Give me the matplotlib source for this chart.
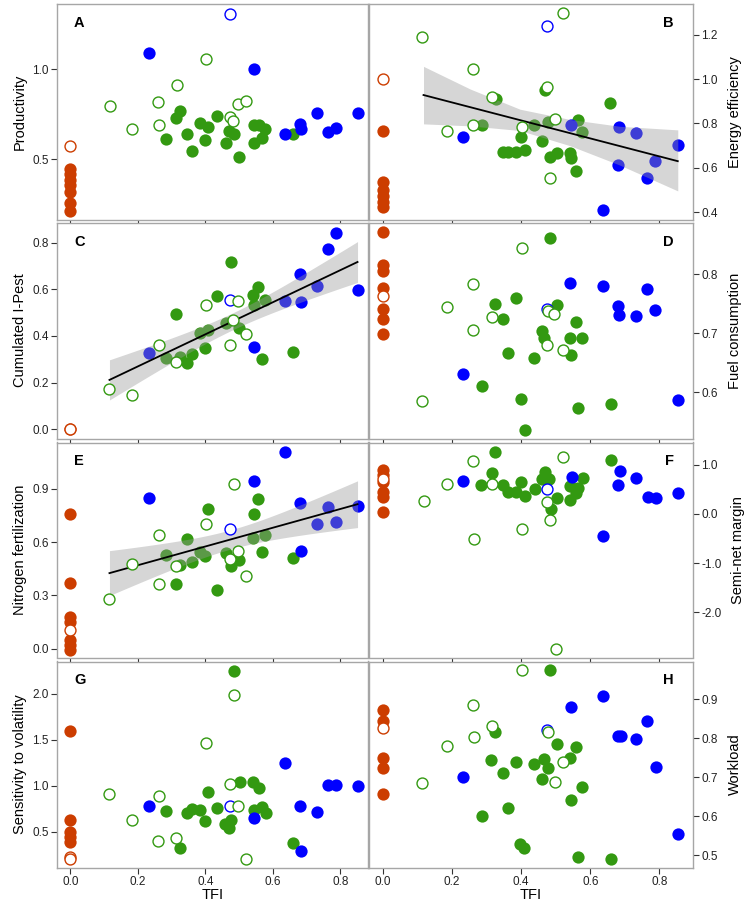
import numpy as np
import matplotlib
matplotlib.use("Agg")
import matplotlib.pyplot as plt
from matplotlib.ticker import FormatStrFormatter

plt.rcParams['font.family'] = ['Liberation Sans', 'DejaVu Sans']
plt.rcParams['axes.unicode_minus'] = False

RED = '#cc3d00'
GREEN = '#339911'
BLUE = '#0000ff'

# ---- A: Productivity
prod_rf_y = [0.444, 0.419, 0.385, 0.358, 0.321, 0.26, 0.216]
prod_ro_y = [0.574]
prod_bf_x = [0.232, 0.543, 0.636, 0.681, 0.684, 0.732, 0.764, 0.787, 0.851]
prod_bf_y = [1.09, 1.0, 0.642, 0.695, 0.666, 0.755, 0.649, 0.675, 0.755]
prod_bo = (0.4725, 1.306)
prod_go_x = [0.118, 0.184, 0.26, 0.262, 0.316, 0.402, 0.4725, 0.483, 0.498, 0.52]
prod_go_y = [0.793, 0.668, 0.819, 0.688, 0.91, 1.054, 0.736, 0.714, 0.808, 0.825]
prod_gf_x = [0.284, 0.313, 0.326, 0.347, 0.361, 0.385, 0.398, 0.409, 0.435, 0.461,
             0.469, 0.486, 0.501, 0.543, 0.545, 0.56, 0.567, 0.577, 0.659]
prod_gf_y = [0.611, 0.729, 0.767, 0.638, 0.546, 0.703, 0.609, 0.679, 0.738, 0.592,
             0.657, 0.642, 0.511, 0.592, 0.69, 0.69, 0.62, 0.666, 0.638]

# ---- B: Energy efficiency
ener_rf_y = [0.764, 0.534, 0.498, 0.471, 0.448, 0.423]
ener_ro_y = [1.0]
ener_bf_x = [0.233, 0.544, 0.684, 0.681, 0.733, 0.788, 0.763, 0.855, 0.638]
ener_bf_y = [0.740, 0.794, 0.785, 0.611, 0.755, 0.629, 0.556, 0.701, 0.409]
ener_bo = (0.474, 1.241)
ener_go_x = [0.115, 0.262, 0.185, 0.262, 0.315, 0.402, 0.474, 0.498, 0.484, 0.52]
ener_go_y = [1.191, 1.045, 0.768, 0.792, 0.919, 0.782, 0.964, 0.821, 0.556, 1.298]
ener_gf_x = [0.287, 0.328, 0.347, 0.361, 0.385, 0.399, 0.41, 0.438, 0.46, 0.468,
             0.477, 0.484, 0.503, 0.542, 0.545, 0.559, 0.566, 0.577, 0.657]
ener_gf_y = [0.795, 0.91, 0.671, 0.671, 0.671, 0.737, 0.681, 0.791, 0.72, 0.952,
             0.806, 0.651, 0.666, 0.669, 0.644, 0.585, 0.817, 0.761, 0.892]
# trend line and confidence band
ener_fit_x = [0.118, 0.253, 0.397, 0.541, 0.686, 0.853]
ener_fit_y = [0.928, 0.873, 0.815, 0.757, 0.698, 0.630]
ener_fit_lo = [0.798, 0.789, 0.768, 0.700, 0.612, 0.496]
ener_fit_hi = [1.057, 0.955, 0.864, 0.818, 0.787, 0.771]

# ---- C: Cumulated I-Pest
ipest_rf_y = [0.0]
ipest_ro_y = [0.0]
ipest_bf_x = [0.232, 0.543, 0.636, 0.681, 0.684, 0.732, 0.764, 0.787, 0.851]
ipest_bf_y = [0.326, 0.354, 0.551, 0.664, 0.546, 0.616, 0.771, 0.843, 0.596]
ipest_bo = (0.4725, 0.554)
ipest_go_x = [0.116, 0.184, 0.262, 0.314, 0.402, 0.4725, 0.483, 0.498, 0.52]
ipest_go_y = [0.171, 0.146, 0.361, 0.29, 0.534, 0.36, 0.469, 0.551, 0.407]
ipest_gf_x = [0.283, 0.313, 0.326, 0.347, 0.361, 0.385, 0.398, 0.409, 0.435, 0.461,
              0.476, 0.501, 0.541, 0.543, 0.557, 0.567, 0.577, 0.659]
ipest_gf_y = [0.307, 0.494, 0.311, 0.286, 0.321, 0.414, 0.35, 0.426, 0.573, 0.457,
              0.717, 0.433, 0.576, 0.533, 0.611, 0.3, 0.554, 0.33]

# ---- D: Fuel consumption
fuel_rf_y = [0.871, 0.815, 0.806, 0.776, 0.742, 0.724, 0.699]
fuel_ro_y = [0.763]
fuel_bf_x = [0.233, 0.542, 0.638, 0.681, 0.684, 0.733, 0.765, 0.788, 0.853]
fuel_bf_y = [0.631, 0.785, 0.78, 0.746, 0.731, 0.729, 0.775, 0.74, 0.588]
fuel_bo = (0.474, 0.741)
fuel_go_x = [0.115, 0.185, 0.262, 0.262, 0.315, 0.402, 0.479, 0.496, 0.474, 0.52]
fuel_go_y = [0.586, 0.745, 0.783, 0.705, 0.727, 0.844, 0.737, 0.732, 0.68, 0.671]
fuel_gf_x = [0.287, 0.325, 0.347, 0.361, 0.385, 0.399, 0.41, 0.436, 0.46, 0.467,
             0.484, 0.503, 0.542, 0.545, 0.559, 0.566, 0.577, 0.659]
fuel_gf_y = [0.611, 0.75, 0.725, 0.666, 0.76, 0.589, 0.537, 0.658, 0.704, 0.692,
             0.861, 0.748, 0.692, 0.663, 0.72, 0.573, 0.692, 0.58]

# ---- E: Nitrogen fertilization
nitro_rf_y = [0.761, 0.372, 0.177, 0.15, 0.049, 0.021, -0.004]
nitro_ro_y = [0.105]
nitro_bf_x = [0.232, 0.543, 0.636, 0.681, 0.684, 0.732, 0.764, 0.787, 0.851]
nitro_bf_y = [0.847, 0.945, 1.11, 0.819, 0.551, 0.701, 0.8, 0.716, 0.806]
nitro_bo = (0.4725, 0.675)
nitro_go_x = [0.116, 0.184, 0.262, 0.262, 0.314, 0.402, 0.486, 0.4735, 0.498, 0.52]
nitro_go_y = [0.278, 0.475, 0.641, 0.363, 0.468, 0.703, 0.926, 0.505, 0.551, 0.41]
nitro_gf_x = [0.283, 0.313, 0.326, 0.347, 0.361, 0.385, 0.398, 0.409, 0.435, 0.461,
              0.476, 0.501, 0.541, 0.543, 0.557, 0.567, 0.577, 0.659]
nitro_gf_y = [0.528, 0.363, 0.472, 0.62, 0.49, 0.543, 0.522, 0.785, 0.331, 0.541,
              0.466, 0.5, 0.626, 0.759, 0.842, 0.545, 0.641, 0.513]

# ---- F: Semi-net margin
margin_rf_y = [0.898, 0.796, 0.66, 0.456, 0.354, 0.048]
margin_ro_y = [0.714]
margin_bf_x = [0.233, 0.546, 0.686, 0.681, 0.733, 0.766, 0.789, 0.855, 0.638]
margin_bf_y = [0.673, 0.748, 0.878, 0.599, 0.741, 0.354, 0.333, 0.422, -0.456]
margin_bo = (0.474, 0.51)
margin_go_x = [0.118, 0.185, 0.262, 0.265, 0.315, 0.402, 0.474, 0.484, 0.521, 0.5]
margin_go_y = [0.265, 0.605, 1.075, -0.517, 0.619, -0.306, 0.252, -0.122, 1.156, -2.755]
margin_gf_x = [0.284, 0.315, 0.325, 0.349, 0.361, 0.385, 0.399, 0.412, 0.439, 0.46,
               0.469, 0.481, 0.486, 0.505, 0.542, 0.542, 0.559, 0.566, 0.578, 0.659]
margin_gf_y = [0.592, 0.844, 1.272, 0.592, 0.442, 0.456, 0.646, 0.374, 0.503, 0.707,
               0.85, 0.714, 0.102, 0.333, 0.578, 0.286, 0.422, 0.537, 0.728, 1.102]

# ---- G: Sensitivity to volatility
vola_rf_y = [1.597, 0.627, 0.5, 0.445, 0.391]
vola_ro_y = [0.22, 0.2]
vola_bf_x = [0.232, 0.545, 0.636, 0.681, 0.684, 0.732, 0.764, 0.787, 0.851]
vola_bf_y = [0.783, 0.645, 1.252, 0.783, 0.293, 0.718, 1.005, 1.005, 0.997]
vola_bo = (0.4725, 0.783)
vola_go_x = [0.116, 0.184, 0.262, 0.26, 0.314, 0.402, 0.4725, 0.486, 0.498, 0.52]
vola_go_y = [0.914, 0.623, 0.892, 0.402, 0.434, 1.466, 1.016, 1.993, 0.783, 0.206]
vola_gf_x = [0.283, 0.326, 0.347, 0.361, 0.385, 0.398, 0.409, 0.435, 0.459, 0.469,
             0.476, 0.486, 0.503, 0.541, 0.545, 0.56, 0.567, 0.579, 0.659]
vola_gf_y = [0.725, 0.318, 0.7, 0.743, 0.74, 0.62, 0.928, 0.754, 0.583, 0.536,
             0.627, 2.254, 1.037, 1.037, 0.736, 0.972, 0.765, 0.7, 0.38]

# ---- H: Workload
work_rf_y = [0.873, 0.843, 0.749, 0.725, 0.657]
work_ro_y = [0.826]
work_bf_x = [0.233, 0.544, 0.638, 0.679, 0.688, 0.733, 0.765, 0.789, 0.853]
work_bf_y = [0.7, 0.879, 0.907, 0.806, 0.806, 0.797, 0.843, 0.727, 0.556]
work_bo = (0.474, 0.82)
work_go_x = [0.115, 0.185, 0.262, 0.263, 0.315, 0.402, 0.479, 0.498, 0.52]
work_go_y = [0.685, 0.78, 0.885, 0.803, 0.832, 0.974, 0.815, 0.687, 0.738]
work_gf_x = [0.287, 0.313, 0.325, 0.347, 0.361, 0.385, 0.397, 0.409, 0.436, 0.46,
             0.467, 0.479, 0.484, 0.503, 0.542, 0.545, 0.559, 0.566, 0.577, 0.659]
work_gf_y = [0.602, 0.744, 0.815, 0.71, 0.621, 0.74, 0.529, 0.518, 0.734, 0.695,
             0.746, 0.723, 0.974, 0.785, 0.75, 0.642, 0.777, 0.495, 0.674, 0.491]

x_ticks = [0.0, 0.2, 0.4, 0.6, 0.8]

# panel table: letter, ylabel, data, ylim, yticks, side, fit
# fit: None, 'ols' (computed from the points) or a tuple of read-off arrays
panels = [
    ('A', 'Productivity', (prod_rf_y, prod_ro_y, prod_bf_x, prod_bf_y, prod_bo, prod_go_x, prod_go_y, prod_gf_x, prod_gf_y),
     (0.164, 1.36), [0.5, 1.0], 'left', None),
    ('B', 'Energy efficiency', (ener_rf_y, ener_ro_y, ener_bf_x, ener_bf_y, ener_bo, ener_go_x, ener_go_y, ener_gf_x, ener_gf_y),
     (0.365, 1.338), [0.4, 0.6, 0.8, 1.0, 1.2], 'right', (ener_fit_x, ener_fit_y, ener_fit_lo, ener_fit_hi)),
    ('C', 'Cumulated I-Pest', (ipest_rf_y, ipest_ro_y, ipest_bf_x, ipest_bf_y, ipest_bo, ipest_go_x, ipest_go_y, ipest_gf_x, ipest_gf_y),
     (-0.039, 0.886), [0.0, 0.2, 0.4, 0.6, 0.8], 'left', 'ols'),
    ('D', 'Fuel consumption', (fuel_rf_y, fuel_ro_y, fuel_bf_x, fuel_bf_y, fuel_bo, fuel_go_x, fuel_go_y, fuel_gf_x, fuel_gf_y),
     (0.522, 0.8876), [0.6, 0.7, 0.8], 'right', None),
    ('E', 'Nitrogen fertilization', (nitro_rf_y, nitro_ro_y, nitro_bf_x, nitro_bf_y, nitro_bo, nitro_go_x, nitro_go_y, nitro_gf_x, nitro_gf_y),
     (-0.049, 1.161), [0.0, 0.3, 0.6, 0.9], 'left', 'ols'),
    ('F', 'Semi-net margin', (margin_rf_y, margin_ro_y, margin_bf_x, margin_bf_y, margin_bo, margin_go_x, margin_go_y, margin_gf_x, margin_gf_y),
     (-2.925, 1.456), [-2.0, -1.0, 0.0, 1.0], 'right', None),
    ('G', 'Sensitivity to volatility', (vola_rf_y, vola_ro_y, vola_bf_x, vola_bf_y, vola_bo, vola_go_x, vola_go_y, vola_gf_x, vola_gf_y),
     (0.111, 2.352), [0.5, 1.0, 1.5, 2.0], 'left', None),
    ('H', 'Workload', (work_rf_y, work_ro_y, work_bf_x, work_bf_y, work_bo, work_go_x, work_go_y, work_gf_x, work_gf_y),
     (0.469, 0.9966), [0.5, 0.6, 0.7, 0.8, 0.9], 'right', None),
]

W, H = 747, 907
fig = plt.figure(figsize=(W / 100, H / 100), dpi=100)

# panel geometry in pixels
cols = [(57, 311, (-0.0394, 0.882)), (368.5, 324.5, (-0.041, 0.897))]
rows = [(4, 216), (222.5, 216), (442.5, 215), (661.5, 206)]

S_FILL = 78
S_OPEN = 62


def ols_fit(xs, ys):
    # linear fit with 95% confidence band of the mean
    xs = np.asarray(xs)
    ys = np.asarray(ys)
    n = len(xs)
    b, a = np.polyfit(xs, ys, 1)
    resid = ys - (a + b * xs)
    s = np.sqrt(np.sum(resid ** 2) / (n - 2))
    sxx = np.sum((xs - xs.mean()) ** 2)
    grid = np.linspace(xs.min(), xs.max(), 100)
    yhat = a + b * grid
    se = s * np.sqrt(1.0 / n + (grid - xs.mean()) ** 2 / sxx)
    t = 2.03
    return grid, yhat, yhat - t * se, yhat + t * se


def draw_fit(ax, gx, gy, lo, hi):
    ax.fill_between(gx, lo, hi, color='#999999', alpha=0.4, linewidth=0, zorder=3)
    ax.plot([gx[0], gx[-1]], [gy[0], gy[-1]], color='black', lw=1.3, zorder=4)


for i, (letter, ylabel, data, ylim, yticks, side, fit) in enumerate(panels):
    rf_y, ro_y, bf_x, bf_y, bo, go_x, go_y, gf_x, gf_y = data
    c = 0 if side == 'left' else 1
    r = i // 2
    x0, w, xlim = cols[c]
    y0, h = rows[r]
    ax = fig.add_axes([x0 / W, 1 - (y0 + h) / H, w / W, h / H])

    ax.scatter(np.zeros(len(rf_y)), rf_y, s=S_FILL, color=RED, linewidths=0, zorder=2)
    ax.scatter(gf_x, gf_y, s=S_FILL, color=GREEN, linewidths=0, zorder=2)
    ax.scatter(bf_x, bf_y, s=S_FILL, color=BLUE, linewidths=0, zorder=2)
    if fit == 'ols':
        draw_fit(ax, *ols_fit(list(bf_x) + list(gf_x) + list(go_x) + [bo[0]],
                              list(bf_y) + list(gf_y) + list(go_y) + [bo[1]]))
    elif fit is not None:
        draw_fit(ax, *fit)
    ax.scatter(np.zeros(len(ro_y)), ro_y, s=S_OPEN, facecolor='white', edgecolor=RED,
               linewidths=1.0, zorder=5)
    ax.scatter([bo[0]], [bo[1]], s=S_OPEN, facecolor='white', edgecolor=BLUE,
               linewidths=1.0, zorder=5)
    ax.scatter(go_x, go_y, s=S_OPEN, facecolor='white', edgecolor=GREEN,
               linewidths=1.0, zorder=5)

    ax.set_xlim(xlim)
    ax.set_ylim(ylim)
    ax.set_xticks(x_ticks)
    ax.set_yticks(yticks)
    ax.yaxis.set_major_formatter(FormatStrFormatter('%.1f'))
    ax.xaxis.set_major_formatter(FormatStrFormatter('%.1f'))
    for sp in ax.spines.values():
        sp.set_color('#a6a6a6')
        sp.set_linewidth(1.0)
    ax.tick_params(axis='both', direction='out', length=4, width=0.8, color='#333333',
                   labelsize=8.5, labelcolor='#222222', pad=2)
    if side == 'right':
        ax.yaxis.tick_right()
        ax.yaxis.set_label_position('right')
    if r < 3:
        ax.tick_params(axis='x', labelbottom=False)
    else:
        ax.set_xlabel('TFI', fontsize=10.5, labelpad=0)
    ax.set_ylabel(ylabel, fontsize=10.5, labelpad=4 if side == 'left' else 7)

    if side == 'left':
        ax.text(17 / w, 1 - 19 / h, letter, transform=ax.transAxes, fontsize=10.5,
                fontweight='bold', ha='left', va='center')
    else:
        ax.text(1 - 19 / w, 1 - 19 / h, letter, transform=ax.transAxes, fontsize=10.5,
                fontweight='bold', ha='right', va='center')

fig.savefig('out.png', dpi=100)
